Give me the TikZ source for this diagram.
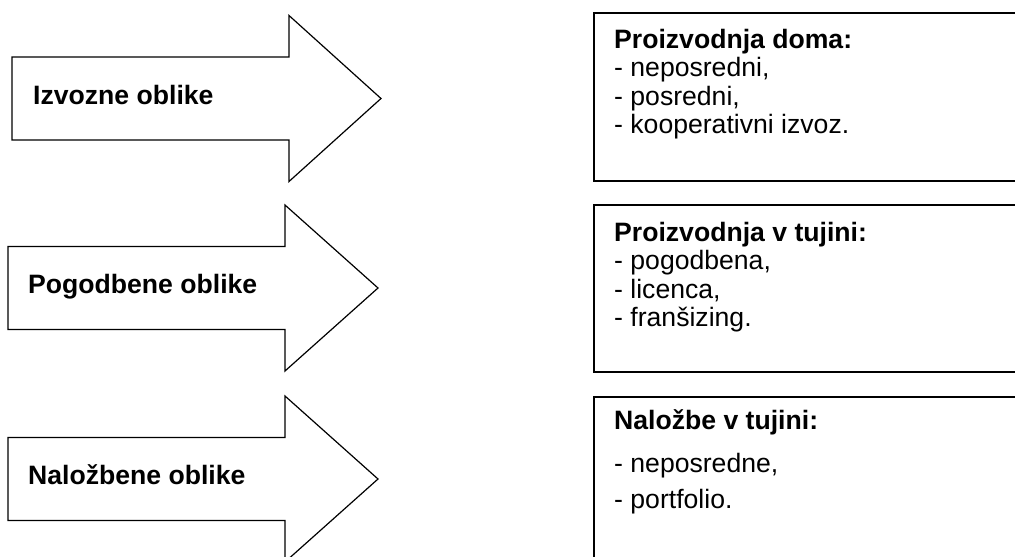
\documentclass[tikz,border=0pt]{standalone}
\usepackage{fontspec}
\setmainfont{Liberation Sans}

\begin{document}
\begin{tikzpicture}[x=1pt,y=-1pt,line join=miter,
    arrow shape/.style={draw,line width=1.2pt},
    form box/.style={draw,line width=1.8pt},
    form label/.style={inner sep=0pt,anchor=base west,font=\bfseries\fontsize{26.6}{28}\selectfont},
    box title/.style={inner sep=0pt,anchor=base west,font=\bfseries\fontsize{26.6}{28}\selectfont},
    box item/.style={inner sep=0pt,anchor=base west,font=\fontsize{26.6}{28}\selectfont}]
    \clip (0,0) rectangle (1015,557);

    % arrows on the left
    \foreach \l/\c/\h/\t in {12/98.5/289/381, 8/288/285/378, 8/479/285/378}
        \draw[arrow shape] (\l,\c-41.5) -- (\h,\c-41.5) -- (\h,\c-83) -- (\t,\c)
            -- (\h,\c+83) -- (\h,\c+41.5) -- (\l,\c+41.5) -- cycle;

    \node[form label] (izvoz) at (33,104) {Izvozne oblike};
    \node[form label] (pogodba) at (28,293) {Pogodbene oblike};
    \node[form label] (nalozba) at (28,484) {Naložbene oblike};

    % boxes on the right
    \draw[form box] (594,13) rectangle (1030,181);
    \draw[form box] (594,205) rectangle (1030,372);
    \draw[form box] (594,397) rectangle (1030,570);

    \node[box title] (doma) at (614,48) {Proizvodnja doma:};
    \foreach \txt [count=\i] in {{- neposredni,}, {- posredni,}, {- kooperativni izvoz.}}
        \node[box item] (doma\i) at (614,48+28.5*\i) {\txt};

    \node[box title] (tujina) at (614,241) {Proizvodnja v tujini:};
    \foreach \txt [count=\i] in {{- pogodbena,}, {- licenca,}, {- franšizing.}}
        \node[box item] (tujina\i) at (614,241+28.5*\i) {\txt};

    \node[box title] (nalozbe) at (614,429) {Naložbe v tujini:};
    \node[box item] (nalozbe1) at (614,472) {- neposredne,};
    \node[box item] (nalozbe2) at (614,508) {- portfolio.};
\end{tikzpicture}
\end{document}
